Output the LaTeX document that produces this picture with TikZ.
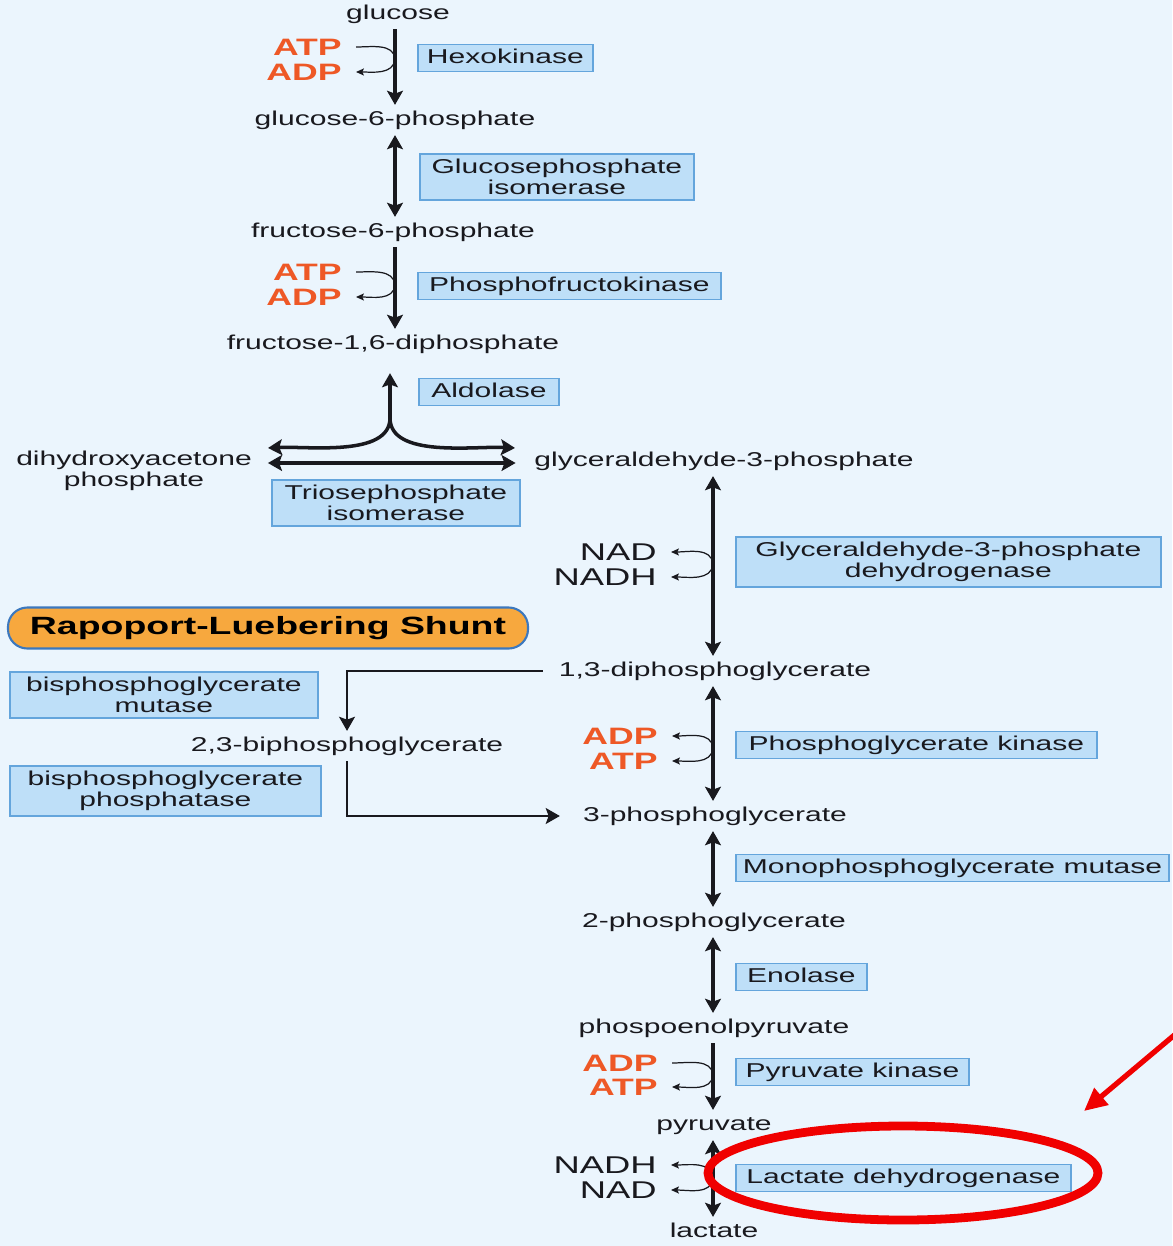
\documentclass[tikz,border=0pt]{standalone}
\usepackage{fontspec}
\setmainfont{Liberation Sans}[FakeStretch=1.5]
\usepackage{xcolor}
\usetikzlibrary{positioning,arrows.meta}

\definecolor{bgblue}{RGB}{235,245,253}
\definecolor{boxfill}{RGB}{190,223,248}
\definecolor{boxline}{RGB}{100,165,220}
\definecolor{inkgray}{RGB}{25,25,30}
\definecolor{cofred}{RGB}{238,88,38}
\definecolor{shuntorange}{RGB}{247,168,62}
\definecolor{shuntline}{RGB}{60,120,190}
\definecolor{markred}{RGB}{240,0,0}

\newcommand{\pxl}{0.02cm}
\newcommand{\metfont}{\fontsize{11.4}{11.6}\selectfont}

\begin{document}
\begin{tikzpicture}[x=0.02cm, y=-0.02cm,
  hd/.tip={Stealth[length=8pt,width=9pt,inset=1.6pt]},
  sm/.tip={Stealth[length=4.5pt,width=4pt,inset=0.9pt]},
  metbase/.style={inner xsep=3pt, inner ysep=3pt, font=\metfont, text=inkgray, align=center},
  met/.style={metbase, text height=8.4pt, text depth=2.4pt},
  enzbase/.style={draw=boxline, fill=boxfill, line width=1pt, anchor=west,
    inner xsep=4pt, font=\metfont, text=inkgray, align=center},
  enz/.style={enzbase, inner ysep=2.3pt, text height=8.4pt, text depth=2.4pt},
  enztwo/.style={enzbase, inner ysep=3pt},
  energy/.style={anchor=east, inner xsep=8pt, inner ysep=1pt,
    font=\fontsize{13.5}{14}\selectfont\bfseries, text=cofred},
  redox/.style={anchor=east, inner xsep=8pt, inner ysep=1pt,
    font=\fontsize{13.8}{14}\selectfont, text=inkgray},
  shuntpill/.style={draw=shuntline, fill=shuntorange, line width=1.2pt,
    rounded corners=11pt, font=\fontsize{14.2}{15}\selectfont\bfseries, text=black},
  main/.style={line width=2pt, draw=inkgray},
  shuntarrow/.style={line width=1.4pt, draw=inkgray},
  cof/.style={line width=0.7pt, draw=inkgray}]

  % background
  \fill[bgblue] (0,0) rectangle (1172,1246);
  \useasboundingbox (0,0) rectangle (1172,1246);

  % columns of the pathway
  \coordinate (colA) at (395,0);
  \coordinate (colB) at (713,0);

  % metabolites
  \node[met] (glc)   at (398,14)  {glucose};
  \node[met] (g6p)   at (395,120) {glucose-6-phosphate};
  \node[met] (f6p)   at (393,232) {fructose-6-phosphate};
  \node[met] (f16bp) at (393,344) {fructose-1,6-diphosphate};
  \node[metbase, inner xsep=9pt] (dhap) at (134,471) {dihydroxyacetone\\phosphate};
  \node[met, inner xsep=10.5pt] (gap) at (724,461) {glyceraldehyde-3-phosphate};
  \node[met, inner xsep=9pt] (dpg13) at (715,671) {1,3-diphosphoglycerate};
  \node[met] (bpg23) at (347,746) {2,3-biphosphoglycerate};
  \node[met, inner xsep=13pt] (pg3) at (715,816) {3-phosphoglycerate};
  \node[met] (pg2)   at (714,922)  {2-phosphoglycerate};
  \node[met] (pep)   at (714,1028) {phospoenolpyruvate};
  \node[met] (pyr)   at (714,1125) {pyruvate};
  \node[met] (lac)   at (714,1232) {lactate};

  % enzymes
  \node[enz, minimum width=175*\pxl] (hexo) at (417,58) {Hexokinase};
  \node[enztwo, minimum width=274*\pxl] (gpi) at (419,177) {Glucosephosphate\\isomerase};
  \node[enz, minimum width=303*\pxl] (pfk) at (417,286) {Phosphofructokinase};
  \node[enz, minimum width=140*\pxl] (ald) at (418,392) {Aldolase};
  \node[enztwo, minimum width=248*\pxl] (tpi) at (271,503) {Triosephosphate\\isomerase};
  \node[enztwo, minimum width=425*\pxl] (gapdh) at (735,562) {Glyceraldehyde-3-phosphate\\dehydrogenase};
  \node[enztwo, minimum width=308*\pxl] (bpgm) at (9,695) {bisphosphoglycerate\\mutase};
  \node[enztwo, minimum width=311*\pxl] (bpgp) at (9,791) {bisphosphoglycerate\\phosphatase};
  \node[enz, minimum width=361*\pxl] (pgk) at (735,745) {Phosphoglycerate kinase};
  \node[enz, minimum width=430*\pxl] (pgm) at (735,868) {Monophosphoglycerate mutase};
  \node[enz, minimum width=131*\pxl] (eno) at (735,977) {Enolase};
  \node[enz, minimum width=233*\pxl] (pyk) at (735,1072) {Pyruvate kinase};
  \node[enz, minimum width=335*\pxl] (ldh) at (735,1178) {Lactate dehydrogenase};

  % shunt title
  \node[shuntpill, minimum width=520*\pxl, minimum height=41*\pxl] (shunt) at (268,628)
    {Rapoport-Luebering Shunt};

  % cofactors
  \node[energy] (atp1)  at (356,47)   {ATP};
  \node[energy] (adp1)  at (356,72)   {ADP};
  \node[energy] (atp2)  at (356,272)  {ATP};
  \node[energy] (adp2)  at (356,297)  {ADP};
  \node[redox]  (nad1)  at (671,552)  {NAD};
  \node[redox]  (nadh1) at (671,577)  {NADH};
  \node[energy] (adp3)  at (672,736)  {ADP};
  \node[energy] (atp3)  at (672,761)  {ATP};
  \node[energy] (adp4)  at (672,1063) {ADP};
  \node[energy] (atp4)  at (672,1087) {ATP};
  \node[redox]  (nadh2) at (671,1165) {NADH};
  \node[redox]  (nad2)  at (671,1190) {NAD};

  % main reactions
  \draw[main,-{hd}] (glc.south -| colA) -- (g6p.north -| colA);
  \draw[main,{hd}-{hd}] (g6p.south -| colA) -- (f6p.north -| colA);
  \draw[main,-{hd}] (f6p.south -| colA) -- (f16bp.north -| colA);
  \foreach \a/\b in {gap/dpg13, dpg13/pg3, pg3/pg2, pg2/pep, pyr/lac}
    \draw[main,{hd}-{hd}] (\a.south -| colB) -- (\b.north -| colB);
  \draw[main,-{hd}] (pep.south -| colB) -- (pyr.north -| colB);

  % aldolase fork and triose isomerase
  \coordinate (fork)  at (390,418);
  \coordinate (forkL) at (268,448);
  \coordinate (forkR) at (515,448);
  \coordinate (tpiy)  at (0,463);
  \draw[main,-{hd},shorten >=8pt] (fork) -- (fork |- f16bp.south);
  \draw[main,-{hd}] (fork) to[out=-90,in=3,looseness=0.8] (forkL);
  \draw[main,-{hd}] (fork) to[out=-90,in=177,looseness=0.8] (forkR);
  \draw[main,{hd}-{hd}] (dhap.east |- tpiy) -- (gap.west |- tpiy);

  % Rapoport-Luebering shunt
  \draw[shuntarrow,-{hd}] (dpg13.west) -| (bpg23.north);
  \draw[shuntarrow,-{hd}] (bpg23.south) |- (pg3.west);

  % cofactor side arrows
  \coordinate (jhk)    at (395,59);
  \coordinate (jpfk)   at (395,285);
  \coordinate (jgapdh) at (713,564);
  \coordinate (jpgk)   at (713,748);
  \coordinate (jpk)    at (713,1075);
  \coordinate (jldh)   at (713,1178);
  \draw[cof,-{sm}] (atp1.east) to[out=0,in=95] (jhk) to[out=-95,in=0] (adp1.east);
  \draw[cof,-{sm}] (atp2.east) to[out=0,in=95] (jpfk) to[out=-95,in=0] (adp2.east);
  \draw[cof,-{sm}] (jgapdh) to[out=95,in=0] (nad1.east);
  \draw[cof,-{sm}] (jgapdh) to[out=-95,in=0] (nadh1.east);
  \draw[cof,-{sm}] (jpgk) to[out=95,in=0] (adp3.east);
  \draw[cof,-{sm}] (jpgk) to[out=-95,in=0] (atp3.east);
  \draw[cof,-{sm}] (adp4.east) to[out=0,in=95] (jpk) to[out=-95,in=0] (atp4.east);
  \draw[cof,-{sm}] (jldh) to[out=95,in=0] (nadh2.east);
  \draw[cof,-{sm}] (jldh) to[out=-95,in=0] (nad2.east);

  % red highlight
  \draw[markred, line width=5pt] (903,1173) ellipse (195 and 47);
  \coordinate (redtail) at (1178,1032);
  \coordinate (redtip)  at (1084,1111);
  \draw[markred, line width=3pt, -{Triangle[length=13pt,width=12pt]}] (redtail) -- (redtip);
\end{tikzpicture}
\end{document}
